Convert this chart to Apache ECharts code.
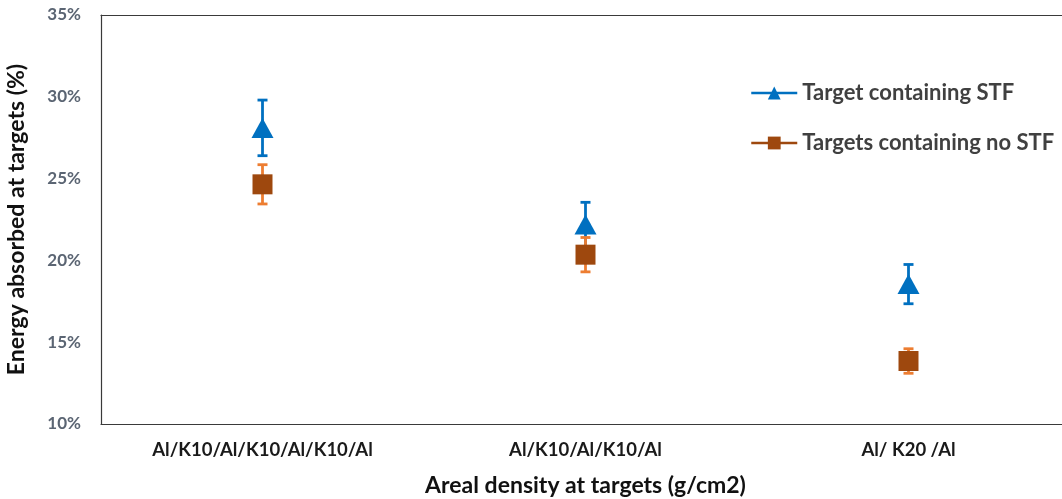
<!DOCTYPE html>
<html><head><meta charset="utf-8">
<script src="https://cdn.jsdelivr.net/npm/echarts@6/dist/echarts.min.js"></script>
<style>html,body{margin:0;padding:0;background:#fff;overflow:hidden}#c{width:1062px;height:499px}</style>
</head><body><div id="c"></div>
<script>
const categories = ['Al/K10/Al/K10/Al/K10/Al', 'Al/K10/Al/K10/Al', 'Al/ K20 /Al'];
const stfValues = [28.1, 22.2, 18.55];
const stfErrors = [1.7, 1.35, 1.2];
const noStfValues = [24.65, 20.35, 13.85];
const noStfErrors = [1.2, 1.05, 0.75];
const yMin = 10, yMax = 35, yStep = 5;

const FONT = 'Lato, "Open Sans", sans-serif';
const BLUE = '#0070C0', BLUE_ERR = '#0070C0';
const BROWN = '#9E480E', ORANGE_ERR = '#ED7D31';
const BORDER = { show: true, lineStyle: { color: '#3a3a3a', width: 1.2 } };

function errData(vals, errs) {
  return vals.map((v, i) => [i, v - errs[i], v + errs[i]]);
}
function errSeries(vals, errs, color, z) {
  return {
    type: 'custom', z: z, silent: true,
    data: errData(vals, errs),
    renderItem: function (params, api) {
      const x = api.value(0);
      const lo = api.coord([x, api.value(1)]);
      const hi = api.coord([x, api.value(2)]);
      const w = 5;
      const st = { stroke: color, lineWidth: 2.8 };
      return { type: 'group', children: [
        { type: 'line', shape: { x1: lo[0], y1: lo[1], x2: hi[0], y2: hi[1] }, style: st },
        { type: 'line', shape: { x1: lo[0] - w, y1: lo[1], x2: lo[0] + w, y2: lo[1] }, style: st },
        { type: 'line', shape: { x1: hi[0] - w, y1: hi[1], x2: hi[0] + w, y2: hi[1] }, style: st }
      ]};
    }
  };
}

const chart = echarts.init(document.getElementById('c'));
chart.setOption({
  animation: false,
  backgroundColor: '#fff',
  grid: { left: 101, top: 15, bottom: 75, width: 969, outerBoundsMode: 'none', containLabel: false, show: false },
  legend: {
    orient: 'vertical', left: 745, top: 77, itemGap: 28,
    itemWidth: 46, itemHeight: 16,
    textStyle: { fontFamily: FONT, fontSize: 22, fontWeight: 'bold', color: '#404040' },
    data: [
      { name: 'Target containing STF', lineStyle: { width: 2.5, color: BLUE } },
      { name: 'Targets containing no STF', lineStyle: { width: 2.5, color: BROWN } }
    ]
  },
  xAxis: [{
    type: 'category', data: categories, boundaryGap: true, position: 'bottom',
    axisLine: BORDER, axisTick: { show: false }, splitLine: { show: false },
    axisLabel: { margin: 17, fontFamily: FONT, fontSize: 18.5, fontWeight: 'bold', color: '#1a1a1a' },
    name: 'Areal density at targets (g/cm2)', nameLocation: 'middle', nameGap: 50,
    nameTextStyle: { fontFamily: FONT, fontSize: 23, fontWeight: 'bold', color: '#111' }
  }, {
    type: 'category', data: categories, position: 'top',
    axisLine: BORDER, axisTick: { show: false }, axisLabel: { show: false }, splitLine: { show: false }
  }],
  yAxis: {
    type: 'value', min: yMin, max: yMax, interval: yStep,
    axisLine: BORDER, axisTick: { show: false }, splitLine: { show: false },
    axisLabel: { margin: 20, formatter: '{value}%', fontFamily: FONT, fontSize: 17, fontWeight: 'bold', color: '#5b6573' },
    name: 'Energy absorbed at targets (%)', nameLocation: 'middle', nameGap: 73,
    nameTextStyle: { fontFamily: FONT, fontSize: 23, fontWeight: 'bold', color: '#111' }
  },
  series: [
    errSeries(stfValues, stfErrors, BLUE_ERR, 2),
    {
      name: 'Target containing STF', type: 'line', z: 3, data: stfValues,
      symbol: 'triangle', symbolSize: [22, 20], showSymbol: true,
      itemStyle: { color: BLUE }, lineStyle: { width: 0, color: BLUE }
    },
    errSeries(noStfValues, noStfErrors, ORANGE_ERR, 4),
    {
      name: 'Targets containing no STF', type: 'line', z: 5, data: noStfValues,
      symbol: 'rect', symbolSize: 20, showSymbol: true,
      itemStyle: { color: BROWN }, lineStyle: { width: 0, color: BROWN }
    }
  ]
});
</script></body></html>
